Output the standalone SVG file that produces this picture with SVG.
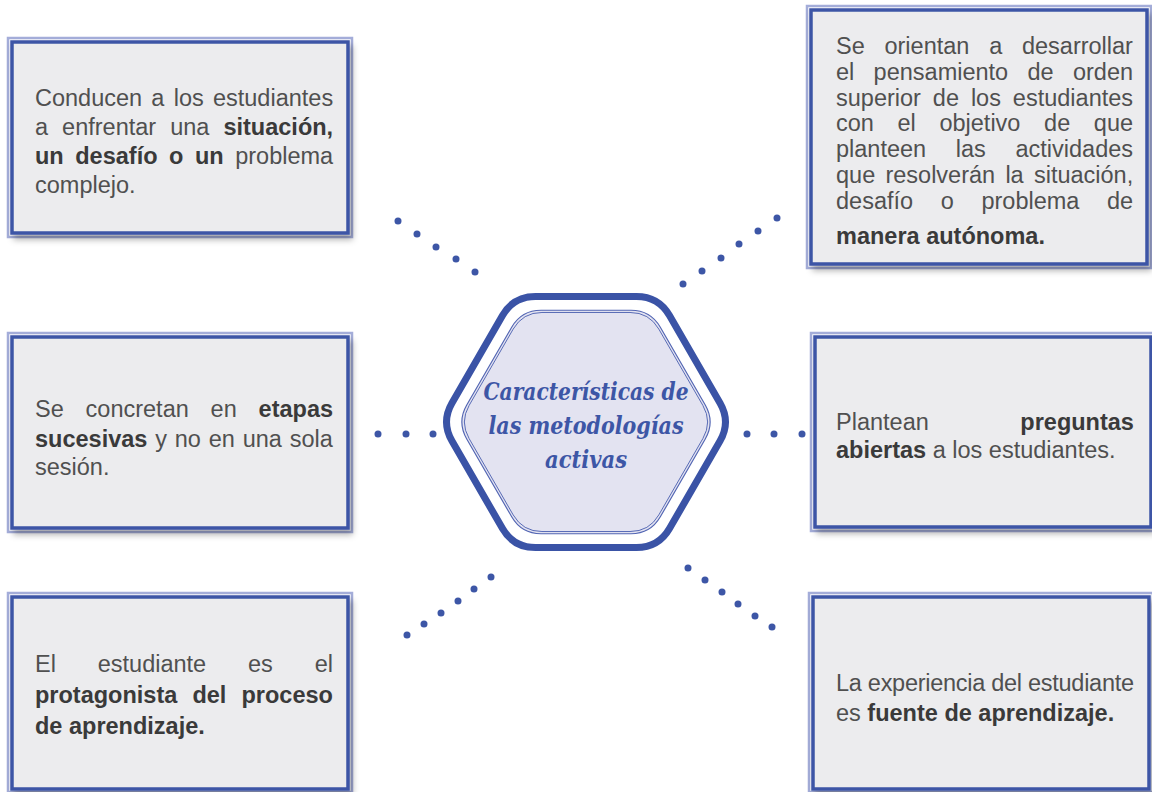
<svg xmlns="http://www.w3.org/2000/svg" width="1152" height="792" viewBox="0 0 1152 792">
<defs>
<filter id="sh" x="-10%" y="-10%" width="125%" height="130%">
<feDropShadow dx="3" dy="5" stdDeviation="3" flood-color="#000" flood-opacity="0.3"/>
</filter>
<path id="hex" d="M452,402.95 L502.5,315.45 Q513.5,296.4 535.5,296.4 L636.5,296.4 Q658.5,296.4 669.5,315.45 L720,402.95 Q731,422 720,441.05 L669.5,528.55 Q658.5,547.6 636.5,547.6 L535.5,547.6 Q513.5,547.6 502.5,528.55 L452,441.05 Q441,422 452,402.95 Z"/>
</defs>
<style>
.box{fill:#ececee;stroke:#3c55a6;stroke-width:3.5}
.halo{fill:none;stroke:#a4add9;stroke-width:2.5}
.t{font-family:"Liberation Sans",Arial,sans-serif;font-size:23.5px;fill:#505050}
.b{font-weight:bold;fill:#3a3a3a}
.dot{fill:#3d56a6}
.title{font-family:"DejaVu Serif Condensed","DejaVu Serif",serif;font-size:24px;font-weight:bold;font-style:italic;fill:#3d56a6;text-anchor:middle}
</style>
<rect width="1152" height="792" fill="#ffffff"/>

<g id="connectors">
<circle class="dot" cx="398" cy="221" r="3.5"/><circle class="dot" cx="417" cy="234" r="3.5"/><circle class="dot" cx="436" cy="247" r="3.5"/><circle class="dot" cx="456" cy="259" r="3.5"/><circle class="dot" cx="475" cy="272" r="3.5"/>
<circle class="dot" cx="683" cy="284" r="3.5"/><circle class="dot" cx="702" cy="271" r="3.5"/><circle class="dot" cx="721" cy="258" r="3.5"/><circle class="dot" cx="739" cy="244" r="3.5"/><circle class="dot" cx="758" cy="231" r="3.5"/><circle class="dot" cx="777" cy="218" r="3.5"/>
<circle class="dot" cx="378" cy="434" r="3.5"/><circle class="dot" cx="406" cy="434" r="3.5"/><circle class="dot" cx="433" cy="434" r="3.5"/>
<circle class="dot" cx="747" cy="434" r="3.5"/><circle class="dot" cx="774" cy="434" r="3.5"/><circle class="dot" cx="802" cy="434" r="3.5"/>
<circle class="dot" cx="491" cy="577" r="3.5"/><circle class="dot" cx="474" cy="589" r="3.5"/><circle class="dot" cx="458" cy="601" r="3.5"/><circle class="dot" cx="441" cy="613" r="3.5"/><circle class="dot" cx="424" cy="624" r="3.5"/><circle class="dot" cx="407" cy="635" r="3.5"/>
<circle class="dot" cx="688" cy="568" r="3.5"/><circle class="dot" cx="705" cy="580" r="3.5"/><circle class="dot" cx="722" cy="592" r="3.5"/><circle class="dot" cx="738" cy="604" r="3.5"/><circle class="dot" cx="755" cy="616" r="3.5"/><circle class="dot" cx="772" cy="627" r="3.5"/>
</g>

<g id="center">
<use href="#hex" fill="#ffffff" stroke="#3a53a6" stroke-width="7" stroke-linejoin="round"/>
<use href="#hex" fill="#e3e3f1" stroke="#5265b3" stroke-width="1.3" vector-effect="non-scaling-stroke" transform="translate(586 422) scale(0.89) translate(-586 -422)"/>
<use href="#hex" fill="none" stroke="#5265b3" stroke-width="1.1" vector-effect="non-scaling-stroke" transform="translate(586 422) scale(0.872) translate(-586 -422)"/>
<text class="title" x="586" y="400" textLength="205" lengthAdjust="spacingAndGlyphs">Características de</text>
<text class="title" x="586" y="434" textLength="195" lengthAdjust="spacingAndGlyphs">las metodologías</text>
<text class="title" x="586" y="468" textLength="82" lengthAdjust="spacingAndGlyphs">activas</text>
</g>

<g id="box1">
<rect class="halo" x="8" y="38" width="344" height="199"/>
<rect class="box" x="12" y="42" width="336" height="191" filter="url(#sh)"/>
<text class="t" x="35" y="106" word-spacing="2.7">Conducen a los estudiantes</text>
<text class="t" x="35" y="135" word-spacing="7.5">a enfrentar una <tspan class="b">situación,</tspan></text>
<text class="t" x="35" y="164" word-spacing="5"><tspan class="b">un desafío o un</tspan> problema</text>
<text class="t" x="35" y="193">complejo.</text>
</g>

<g id="box2">
<rect class="halo" x="807" y="6" width="344" height="262"/>
<rect class="box" x="811" y="10" width="336" height="254" filter="url(#sh)"/>
<text class="t" x="836" y="54" word-spacing="13.2">Se orientan a desarrollar</text>
<text class="t" x="836" y="80" word-spacing="12.8">el pensamiento de orden</text>
<text class="t" x="836" y="106" word-spacing="5.4">superior de los estudiantes</text>
<text class="t" x="836" y="131" word-spacing="17.1">con el objetivo de que</text>
<text class="t" x="836" y="157" word-spacing="23.1">planteen las actividades</text>
<text class="t" x="836" y="183" word-spacing="3.7">que resolverán la situación,</text>
<text class="t" x="836" y="209" word-spacing="21.1">desafío o problema de</text>
<text class="t b" x="836" y="244">manera autónoma.</text>
</g>

<g id="box3">
<rect class="halo" x="8" y="333" width="344" height="199"/>
<rect class="box" x="12" y="337" width="336" height="191" filter="url(#sh)"/>
<text class="t" x="35" y="417" word-spacing="15.3">Se concretan en <tspan class="b">etapas</tspan></text>
<text class="t" x="35" y="447" word-spacing="1.3"><tspan class="b">sucesivas</tspan> y no en una sola</text>
<text class="t" x="35" y="475">sesión.</text>
</g>

<g id="box4">
<rect class="halo" x="811" y="333" width="344" height="198"/>
<rect class="box" x="815" y="337" width="336" height="190" filter="url(#sh)"/>
<text class="t" x="836" y="430" word-spacing="85">Plantean <tspan class="b">preguntas</tspan></text>
<text class="t" x="836" y="458"><tspan class="b">abiertas</tspan> a los estudiantes.</text>
</g>

<g id="box5">
<rect class="halo" x="8" y="593" width="344" height="199"/>
<rect class="box" x="12" y="597" width="336" height="192" filter="url(#sh)"/>
<text class="t" x="35" y="672" word-spacing="35.3">El estudiante es el</text>
<text class="t b" x="35" y="703" word-spacing="8.6">protagonista del proceso</text>
<text class="t b" x="35" y="734">de aprendizaje.</text>
</g>

<g id="box6">
<rect class="halo" x="809" y="593" width="344" height="199"/>
<rect class="box" x="813" y="597" width="336" height="192" filter="url(#sh)"/>
<text class="t" x="836" y="691" textLength="298" lengthAdjust="spacing">La experiencia del estudiante</text>
<text class="t" x="836" y="721">es <tspan class="b">fuente de aprendizaje.</tspan></text>
</g>
</svg>
